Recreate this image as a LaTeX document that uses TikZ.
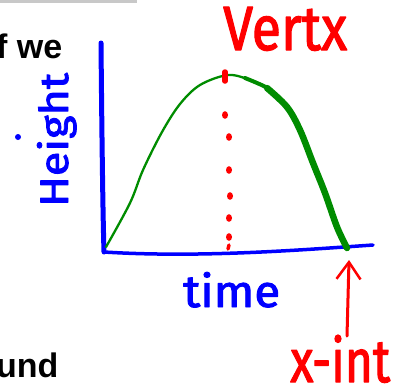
\documentclass[tikz,border=0pt]{standalone}
\usepackage{fontspec}
\setmainfont{Liberation Sans}
\newfontface\handfont[FakeBold=2]{Fira Sans}
\usetikzlibrary{arrows.meta}
\definecolor{inkred}{RGB}{255,0,0}
\definecolor{inkblue}{RGB}{0,0,255}
\definecolor{inkgreen}{RGB}{0,140,0}
\definecolor{rulegray}{RGB}{200,200,200}
\begin{document}
\begin{tikzpicture}[x=1pt,y=-1pt,line cap=round,line join=round,
  printtext/.style={inner sep=0pt,anchor=base west,font=\fontsize{34}{38}\selectfont\bfseries},
  handlabel/.style={inner sep=0pt,anchor=base west,font=\handfont},
  axisline/.style={draw=inkblue},
  curveline/.style={draw=inkgreen},
  reddot/.style={fill=inkred},
  pointer/.style={draw=inkred,line width=3pt,-{Straight Barb[length=17pt,width=24pt,line width=2.5pt]}}]
\useasboundingbox (0,0) rectangle (401,389);

% page fragments
\draw[rulegray,line width=3pt,line cap=butt] (0,1) -- (137,1);
\node[printtext] (fwe) at (-4,58) {f we};
\node[printtext] (und) at (-4,377) {und};

% axes
\coordinate (origin) at (104,252);
\draw[axisline,line width=5pt] (101,43) .. controls (102,150) and (103,220) .. (origin);
\draw[axisline,line width=3.5pt] (origin) .. controls (200,258) and (300,250) .. (373,245);

% parabola
\draw[curveline,line width=2.3pt] plot[smooth,tension=0.55] coordinates {(106,247) (130,203) (143,170) (162,132) (180,104) (200,85) (228,75) (250,80) (267,88) (287,107) (300,130) (313,163) (325,193) (337,227) (347,248)};
\draw[curveline,line width=4pt] plot[smooth,tension=0.55] coordinates {(245,78) (257,83) (267,88) (280,99)};
\draw[curveline,line width=6.5pt] plot[smooth,tension=0.55] coordinates {(267,88) (287,107) (300,130) (313,163) (325,193) (337,227) (347,248)};

% vertex dotted line
\draw[inkred,line width=5.5pt] (225,72) -- (225,81);
\foreach \px/\py in {225/115,229/137,229/170,230/196,229/218,229/237}
  \fill[reddot] (\px,\py) ellipse (3 and 3.8);
\draw[inkred,line width=3.5pt] (229,245) -- (228,249);

% labels
\node[handlabel,text=inkred] (vertx) at (223,50) {\resizebox{124pt}{43pt}{Vertx}};
\node[handlabel,text=inkblue,rotate=90] (height) at (68,207) {\resizebox{134pt}{31pt}{Height}};
\fill[inkblue] (18,137) circle (3);
\node[handlabel,text=inkblue] (time) at (183,307) {\resizebox{97pt}{35pt}{time}};
\node[handlabel,text=inkred] (xintlabel) at (290,382) {\resizebox{100pt}{47pt}{x-int}};

% arrow to the x-intercept
\coordinate (xint) at (349,260);
\coordinate (shaftfoot) at (347,336);
\draw[pointer] (shaftfoot) -- (xint);
\end{tikzpicture}
\end{document}
